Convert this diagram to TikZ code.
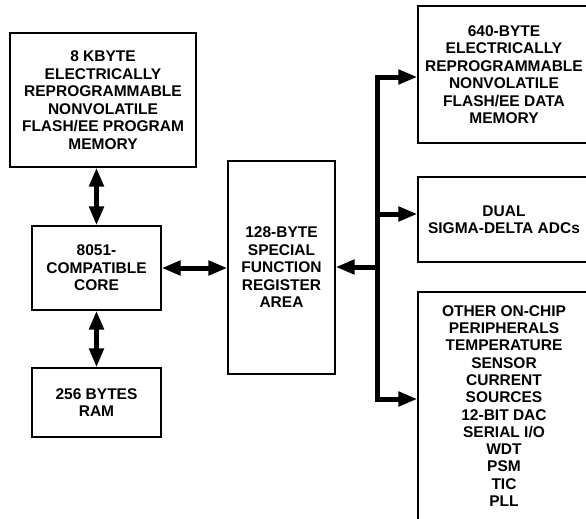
\documentclass[tikz,border=0pt]{standalone}
\usepackage{fontspec}
\setmainfont{Liberation Sans}
\usetikzlibrary{arrows.meta,calc}
\tikzset{
  blk/.style = {draw=black, line width=1.2pt, align=center, inner sep=0pt, font=\bfseries\fontsize{15.5}{17.5}\selectfont},
  blk_r/.style = {blk, minimum width=172pt},
  arr/.style = {line width=5pt, -{Triangle[length=19pt,width=14pt]}},
  arr_d/.style = {line width=5pt, line join=miter, {Triangle[length=19pt,width=14pt]}-{Triangle[length=19pt,width=14pt]}}
}

\begin{document}
\begin{tikzpicture}[x=1pt,y=-1pt]
\clip (0,0) rectangle (586,519);
% left column
\node [blk, minimum width=186pt, minimum height=134pt] (prog) at (103,100)
	{8 KBYTE\\ELECTRICALLY\\REPROGRAMMABLE\\NONVOLATILE\\FLASH/EE PROGRAM\\MEMORY};
\node [blk, minimum width=129pt, minimum height=84pt] (core) at (96.5,268)
	{8051-\\COMPATIBLE\\CORE};
\node [blk, minimum width=129pt, minimum height=69pt] (ram) at (96.5,402.5)
	{256 BYTES\\RAM};
% middle
\node [blk, minimum width=107pt, minimum height=213pt] (sfr) at (281.5,267.5)
	{128-BYTE\\SPECIAL\\FUNCTION\\REGISTER\\AREA};
% right column
\node [blk_r, minimum height=137pt] (flashdata) at (504,74.5)
	{640-BYTE\\ELECTRICALLY\\REPROGRAMMABLE\\NONVOLATILE\\FLASH/EE DATA\\MEMORY};
\node [blk_r, minimum height=85pt] (adc) at (504,219.5)
	{DUAL\\SIGMA-DELTA ADCs};
\node [blk_r, minimum height=228pt, font=\bfseries\fontsize{15.5}{17.3}\selectfont] (periph) at (504,406)
	{OTHER ON-CHIP\\PERIPHERALS\\TEMPERATURE\\SENSOR\\CURRENT\\SOURCES\\12-BIT DAC\\SERIAL I/O\\WDT\\PSM\\TIC\\PLL};

% arrows
\draw [arr_d] (core.north) -- (core.north |- prog.south);
\draw [arr_d] (core.south) -- (core.south |- ram.north);
\draw [arr_d] (core.east) -- (core.east -| sfr.west);

% bus
\coordinate (bus_t) at (377,77);
\coordinate (bus_b) at (377,399);
\coordinate (bus_adc) at (377,214);
\coordinate (bus_sfr) at (377,267);
\draw [arr_d] (bus_t -| flashdata.west) -- (bus_t) -- (bus_b) -- (bus_b -| periph.west);
\draw [arr] (bus_adc) -- (bus_adc -| adc.west);
\draw [arr] (bus_sfr) -- (bus_sfr -| sfr.east);
\end{tikzpicture}
\end{document}
